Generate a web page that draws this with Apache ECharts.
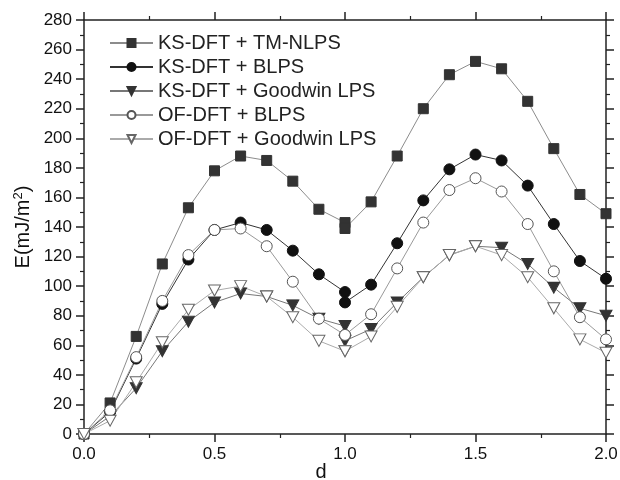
<!DOCTYPE html>
<html>
<head>
<meta charset="utf-8">
<script src="https://cdn.jsdelivr.net/npm/echarts@6/dist/echarts.min.js"></script>
<style>html,body{margin:0;padding:0;background:#fff;}#c{width:620px;height:480px;}</style>
</head>
<body>
<div id="c"></div>
<script>
var dVals = [0, 0.1, 0.2, 0.3, 0.4, 0.5, 0.6, 0.7, 0.8, 0.9, 1.0, 1.0, 1.1, 1.2, 1.3, 1.4, 1.5, 1.6, 1.7, 1.8, 1.9, 2.0];
var ksTmNlps   = [0, 21, 66, 115, 153, 178, 188, 185, 171, 152, 143, 139, 157, 188, 220, 243, 252, 247, 225, 193, 162, 149];
var ksBlps     = [0, 15, 51, 88, 118, 138, 143, 138, 124, 108, 96, 89, 101, 129, 158, 179, 189, 185, 168, 142, 117, 105];
var ksGoodwin  = [0, 12, 31, 56, 76, 89, 95, 93, 87, 78, 73, 63, 71, 89, 106, 121, 127, 126, 115, 99, 85, 80];
var ofBlps     = [0, 16, 52, 90, 121, 138, 139, 127, 103, 78, 67, 67, 81, 112, 143, 165, 173, 164, 142, 110, 79, 64];
var ofGoodwin  = [0, 9, 35, 62, 84, 97, 100, 93, 79, 63, 56, 56, 66, 86, 106, 121, 127, 121, 106, 85, 64, 55];
var seriesNames = ['KS-DFT + TM-NLPS', 'KS-DFT + BLPS', 'KS-DFT + Goodwin LPS', 'OF-DFT + BLPS', 'OF-DFT + Goodwin LPS'];

function pairs(ys) { return dVals.map(function (x, i) { return [x, ys[i]]; }); }
var downTri = 'path://M0,0 L10,0 L5,9 Z';

var chart = echarts.init(document.getElementById('c'));
var axisCol = '#222';
var fam = 'Liberation Sans';
function xAx(pos, showLabel) {
  return {
    type: 'value', position: pos, min: 0, max: 2, interval: 0.5,
    axisLine: { show: true, onZero: false, lineStyle: { color: axisCol, width: 1.5 } },
    axisTick: { show: true, inside: false, length: 8, lineStyle: { color: axisCol, width: 1.5 } },
    minorTick: { show: true, splitNumber: 2, length: 4, lineStyle: { color: axisCol, width: 1.2 } },
    splitLine: { show: false },
    axisLabel: { show: showLabel, margin: 12, fontSize: 17, color: '#111', fontFamily: fam, formatter: function (v) { return v.toFixed(1); } },
    name: showLabel ? 'd' : '', nameLocation: 'middle', nameGap: 28, nameMoveOverlap: false,
    nameTextStyle: { fontSize: 20, color: '#111', fontFamily: fam, padding: [0, 48, 0, 0], verticalAlign: 'top' }
  };
}
function yAx(pos, showLabel) {
  return {
    type: 'value', position: pos, min: 0, max: 280, interval: 20,
    axisLine: { show: true, onZero: false, lineStyle: { color: axisCol, width: 1.5 } },
    axisTick: { show: true, inside: false, length: 8, lineStyle: { color: axisCol, width: 1.5 } },
    minorTick: { show: true, splitNumber: 2, length: 4, lineStyle: { color: axisCol, width: 1.2 } },
    splitLine: { show: false },
    axisLabel: { show: showLabel, margin: 12, fontSize: 17, color: '#111', fontFamily: fam },
    name: showLabel ? '{a|E(mJ/m}{s|2}{a|)}' : '', nameLocation: 'middle', nameGap: 50, nameRotate: 90, nameMoveOverlap: false,
    nameTextStyle: {
      fontSize: 20, color: '#111', fontFamily: fam,
      rich: {
        a: { fontSize: 20, color: '#111', fontFamily: fam, lineHeight: 22 },
        s: { fontSize: 13, color: '#111', fontFamily: fam, verticalAlign: 'top', lineHeight: 22, padding: [0, 0, 8, 0] }
      }
    }
  };
}
function ser(i, ys, symbol, size, fill, stroke, lineCol) {
  return {
    name: seriesNames[i], type: 'line', data: pairs(ys), xAxisIndex: 0, yAxisIndex: 0,
    symbol: symbol, symbolSize: size, showAllSymbol: true,
    lineStyle: { color: lineCol, width: 1 },
    itemStyle: { color: fill, borderColor: stroke, borderWidth: 1 },
    emphasis: { disabled: true }, animation: false
  };
}
chart.setOption({
  animation: false,
  backgroundColor: '#fff',
  grid: { left: 84, right: 14, top: 20, bottom: 46, containLabel: false, outerBoundsMode: 'none' },
  xAxis: [xAx('bottom', true), xAx('top', false)],
  yAxis: [yAx('left', true), yAx('right', false)],
  legend: {
    left: 104, top: 28, orient: 'vertical',
    itemWidth: 43, itemHeight: 10, itemGap: 4,
    textStyle: { fontSize: 20, color: '#222', fontFamily: fam, lineHeight: 20 },
    data: seriesNames
  },
  series: [
    ser(0, ksTmNlps, 'rect', 10, '#333', '#333', '#8c8c8c'),
    ser(1, ksBlps, 'circle', 11, '#111', '#111', '#333'),
    ser(2, ksGoodwin, downTri, [12, 11], '#333', '#333', '#777'),
    ser(3, ofBlps, 'circle', 11, '#fff', '#555', '#999'),
    ser(4, ofGoodwin, downTri, [12, 11], '#fff', '#666', '#aaa')
  ]
});
</script>
</body>
</html>
